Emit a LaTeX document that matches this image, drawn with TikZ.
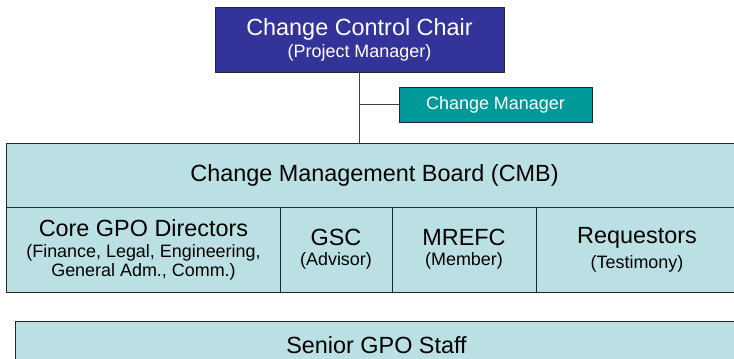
\documentclass[tikz,border=0pt]{standalone}
\usepackage{fontspec}
\setmainfont{Liberation Sans}
\usetikzlibrary{positioning}

\definecolor{chairblue}{HTML}{333399}
\definecolor{mgrteal}{HTML}{009999}
\definecolor{boardfill}{HTML}{BBE0E3}

\newcommand{\bigline}{\fontsize{23.5}{25}\selectfont}
\newcommand{\subline}{\fontsize{18}{20}\selectfont}

\begin{document}
\begin{tikzpicture}[
  x=1bp, y=-1bp,
  node distance=0pt,
  box/.style={rectangle, draw=black!85, line width=1bp, inner sep=0pt,
              outer sep=0pt, align=center},
  chairbox/.style={box, fill=chairblue, text=white,
                   minimum width=289bp, minimum height=65bp},
  mgrbox/.style={box, fill=mgrteal, text=white, font=\subline,
                 minimum width=193bp, minimum height=35bp},
  boardbox/.style={box, fill=boardfill, minimum height=64bp},
  member/.style={box, fill=boardfill, minimum height=85bp},
  link/.style={draw=black!75, line width=1bp}
]
\useasboundingbox (0,0) rectangle (734,358);

\node[chairbox] (chair) at (359.5,39.5)
  {\bigline Change Control Chair\\[3bp]\subline (Project Manager)};
\node[mgrbox] (mgr) at (495.5,104.5) {Change Manager};

\node[boardbox, minimum width=731bp] (cmb) at (372.5,175)
  {\bigline\hspace*{4bp}Change Management Board (CMB)};

\node[member, minimum width=273bp, anchor=north west] (core) at (cmb.south west)
  {\bigline Core GPO Directors\\[7bp]\subline (Finance, Legal, Engineering,\\[1bp]\subline General Adm., Comm.)};
\node[member, minimum width=112bp, right=of core] (gsc)
  {\bigline GSC\\[6bp]\subline (Advisor)};
\node[member, minimum width=144bp, right=of gsc] (mrefc)
  {\bigline MREFC\\[6bp]\subline (Member)};
\node[member, minimum width=202bp, right=of mrefc] (req)
  {\bigline Requestors\\[6bp]\subline (Testimony)};

\node[boardbox, minimum width=723bp, minimum height=48bp, anchor=north west]
  (staff) at (15,321) {\bigline Senior GPO Staff};

% chair down to the board, manager hangs off the same line
\coordinate (tap) at (mgr.west -| chair.south);
\draw[link] (chair.south) -- (chair.south |- cmb.north);
\draw[link] (tap) -- (mgr.west);

\end{tikzpicture}
\end{document}
